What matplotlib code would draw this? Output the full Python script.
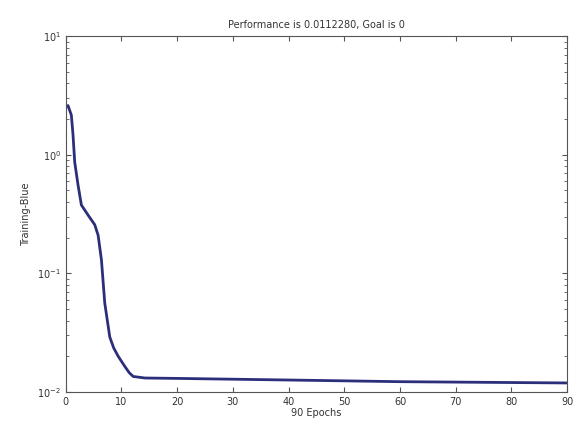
import matplotlib
matplotlib.use('Agg')
import matplotlib.pyplot as plt

# training curve
epochs = [0, 0.4, 1.0, 1.3, 1.6, 2.2, 2.8, 4.0, 5.2, 5.8, 6.4, 7.0, 7.9, 8.6, 9.4,
          10.6, 11.4, 12.1, 14.2, 20, 30, 40, 50, 60, 70, 80, 90]
perf = [2.5, 2.6, 2.16, 1.47, 0.87, 0.556, 0.377, 0.31, 0.257, 0.21, 0.13, 0.056,
        0.029, 0.0235, 0.020, 0.0164, 0.0145, 0.0135, 0.0131, 0.0130, 0.0128,
        0.0126, 0.0124, 0.0122, 0.0121, 0.0120, 0.0119]

xticks = [0, 10, 20, 30, 40, 50, 60, 70, 80, 90]

plt.rcParams['font.size'] = 7
fig = plt.figure(figsize=(5.77, 4.26), dpi=100)
ax = fig.add_axes([0.114, 0.08, 0.869, 0.835])

ax.semilogy(epochs, perf, color='#2b2f7a', linewidth=2)
ax.set_xlim(0, 90)
ax.set_ylim(0.01, 10)
ax.set_xticks(xticks)
ax.tick_params(which='both', direction='in', top=True, right=True, colors='#555555')
ax.tick_params(labelcolor='#333333')
for s in ax.spines.values():
    s.set_color('#555555')

ax.set_title('Performance is 0.0112280, Goal is 0', fontsize=7, color='#333333')
ax.set_xlabel('90 Epochs', color='#333333', labelpad=1)
ax.set_ylabel('Training-Blue', color='#333333')

fig.savefig('out.png', dpi=100)
